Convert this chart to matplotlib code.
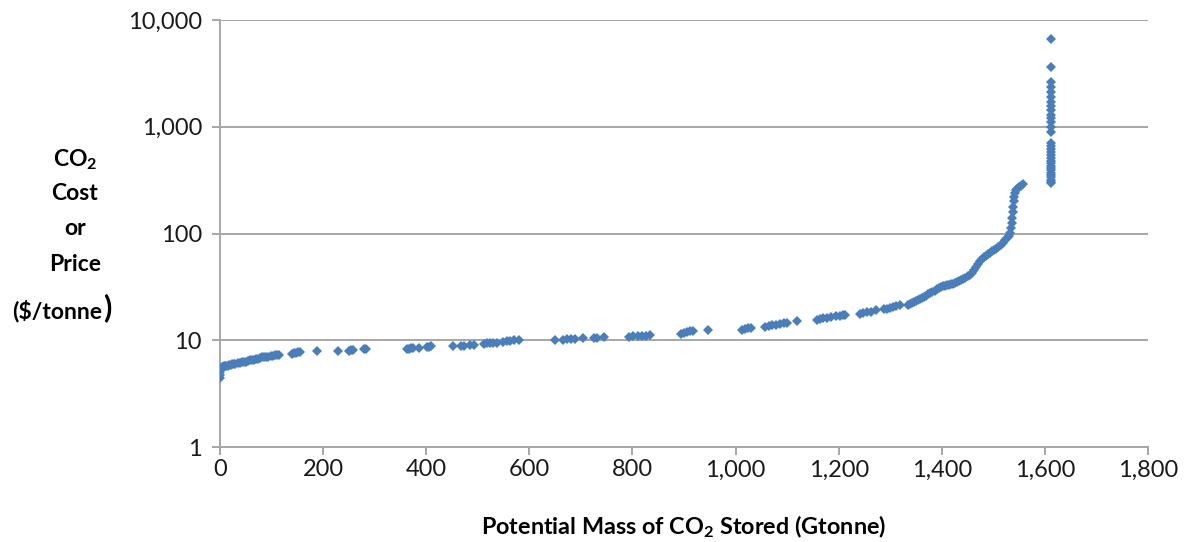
import matplotlib
matplotlib.use("Agg")
import matplotlib.pyplot as plt
from matplotlib.ticker import FixedLocator, FuncFormatter

plt.rcParams['font.family'] = ['Lato', 'DejaVu Sans']
plt.rcParams['mathtext.fontset'] = 'custom'
plt.rcParams['mathtext.rm'] = 'Lato'
plt.rcParams['mathtext.bf'] = 'Lato:bold'

# --- datos ---
# tramo inicial denso (0-115 Gt)
x_ini = [0, 0, 0, 0, 1, 2, 3, 5, 7, 9, 12, 15, 18, 21, 24, 27, 30, 34, 38, 42,
         46, 50, 54, 58, 62, 66, 70, 74, 78, 82, 86, 90, 94, 98, 102, 106, 110, 114]
y_ini = [4.4, 4.7, 5.0, 5.3, 5.4, 5.5, 5.6, 5.6, 5.7, 5.7, 5.8, 5.8, 5.9, 5.9, 6.0,
         6.0, 6.0, 6.1, 6.1, 6.2, 6.2, 6.3, 6.4, 6.5, 6.5, 6.6, 6.7, 6.7, 6.8, 6.9,
         6.9, 7.0, 7.0, 7.1, 7.1, 7.2, 7.2, 7.3]

# tramo intermedio (puntos sueltos)
x_med = [140, 144, 148, 152, 156, 188, 228, 250, 254, 258, 280, 284,
         362, 366, 370, 374, 386, 402, 406, 410, 452, 468, 474, 484, 492,
         512, 518, 524, 530, 538, 548, 556, 562, 570, 580,
         650, 666, 674, 680, 688, 704, 726, 732, 744,
         794, 802, 810, 818, 826, 834, 894, 900, 906, 912, 918, 946,
         1012, 1018, 1024, 1030, 1058, 1064, 1070, 1078, 1086, 1094, 1100, 1120,
         1158, 1164, 1170, 1178, 1186, 1194, 1202, 1208, 1212,
         1242, 1248, 1254, 1262, 1272, 1288, 1294, 1300, 1306, 1312, 1318]
y_med = [7.5, 7.6, 7.6, 7.7, 7.7, 7.9, 7.9, 8.0, 8.1, 8.1, 8.2, 8.3,
         8.3, 8.3, 8.4, 8.4, 8.5, 8.6, 8.7, 8.8, 8.8, 8.9, 8.9, 9.0, 9.0,
         9.3, 9.4, 9.4, 9.5, 9.5, 9.7, 9.8, 9.9, 10.0, 10.0,
         10.1, 10.1, 10.2, 10.2, 10.3, 10.4, 10.5, 10.6, 10.7,
         10.8, 10.9, 10.9, 11.0, 11.0, 11.1, 11.5, 11.8, 12.0, 12.1, 12.3, 12.4,
         12.6, 12.8, 12.9, 13.0, 13.3, 13.6, 13.8, 14.0, 14.2, 14.4, 14.5, 15.0,
         15.4, 15.8, 16.0, 16.2, 16.5, 16.7, 16.9, 17.1, 17.3,
         17.6, 17.9, 18.2, 18.5, 19.1, 19.5, 19.8, 20.2, 20.5, 20.8, 21.2]

# tramo final denso (1334-1560 Gt)
x_fin = [1334, 1338, 1342, 1346, 1350, 1354, 1358, 1362, 1366, 1370, 1374, 1378,
         1382, 1386, 1390, 1394, 1398, 1402, 1406, 1410, 1414, 1418, 1422, 1426,
         1430, 1434, 1438, 1442, 1446, 1450, 1454, 1458, 1462, 1466, 1470, 1474,
         1478, 1482, 1486, 1490, 1494, 1498, 1502, 1506, 1510, 1514, 1518, 1522,
         1526, 1530, 1533, 1535, 1536, 1537, 1538, 1539, 1540, 1541, 1542, 1544,
         1546, 1550, 1554, 1558]
y_fin = [21.6, 22.0, 22.4, 22.8, 23.2, 23.6, 24.1, 24.8, 25.5, 26.2, 26.9, 27.6,
         28.4, 29.2, 30.0, 30.8, 31.4, 31.9, 32.4, 32.8, 33.2, 33.6, 34.0, 34.6,
         35.3, 36.0, 36.8, 37.6, 38.6, 39.8, 41.2, 43.0, 45.5, 48.5, 52, 55,
         58, 60, 62, 64, 66, 68, 70, 72, 75, 78, 82, 86,
         90, 95, 102, 112, 125, 140, 158, 178, 200, 220, 240, 255,
         262, 270, 280, 292]

# columna vertical en ~1612 Gt
x_col = [1612] * 31
y_col = [6640, 3650, 2640, 2370, 2130, 1910, 1720, 1550, 1435, 1300, 1210, 1100,
         1000, 900, 705, 660, 620, 580, 545, 510, 480, 455, 430, 410, 390, 370,
         350, 335, 320, 305, 295]

x_ticks = [0, 200, 400, 600, 800, 1000, 1200, 1400, 1600, 1800]
y_ticks = [1, 10, 100, 1000, 10000]

COLOR = '#4A7EBB'
GRIS = '#A6A6A6'

fig = plt.figure(figsize=(11.85, 5.42), dpi=100)
ax = fig.add_axes([220 / 1185, 1 - 447 / 542, (1148 - 220) / 1185, (447 - 20) / 542])

for xs, ys in [(x_ini, y_ini), (x_med, y_med), (x_fin, y_fin), (x_col, y_col)]:
    ax.plot(xs, ys, linestyle='none', marker='D', markersize=5.5,
            color=COLOR, markeredgewidth=0, zorder=3)

ax.set_yscale('log')
ax.set_xlim(0, 1800)
ax.set_ylim(1, 10000)
ax.xaxis.set_major_locator(FixedLocator(x_ticks))
ax.yaxis.set_major_locator(FixedLocator(y_ticks))
ax.yaxis.set_minor_locator(FixedLocator([]))
fmt = FuncFormatter(lambda v, p: f"{v:,.0f}")
ax.xaxis.set_major_formatter(fmt)
ax.yaxis.set_major_formatter(fmt)

ax.grid(True, axis='y', color=GRIS, linewidth=1.4)
for lado in ['top', 'right']:
    ax.spines[lado].set_visible(False)
for lado in ['left', 'bottom']:
    ax.spines[lado].set_color(GRIS)
    ax.spines[lado].set_linewidth(1.4)
ax.tick_params(axis='both', colors=GRIS, labelcolor='#1a1a1a', labelsize=17,
               width=1.4, length=6, direction='out')
ax.tick_params(axis='x', pad=3)
ax.tick_params(axis='y', pad=7)

# etiqueta eje y, linea por linea
lineas = [(r"CO$_\mathbf{2}$", 160), ("Cost", 194), ("or", 229), ("Price", 264)]
for txt, ypx in lineas:
    fig.text(75 / 1185, 1 - ypx / 542, txt, ha='center', va='center',
             fontsize=16.5, fontweight='bold')
t = fig.text(57 / 1185, 1 - 311 / 542, r"(\$/tonne", ha='center', va='center',
             fontsize=16.5, fontweight='bold')
rend = fig.canvas.get_renderer()
bb = t.get_window_extent(rend)
fig.text((bb.x1 + 1) / 1185, 1 - 308 / 542, ")", ha='left', va='center',
         fontsize=22, fontweight='bold')

fig.text(684 / 1185, 1 - 527 / 542, r"Potential Mass of CO$_\mathbf{2}$ Stored (Gtonne)",
         ha='center', va='center', fontsize=16.8, fontweight='bold')

fig.savefig("out.png", dpi=100)
